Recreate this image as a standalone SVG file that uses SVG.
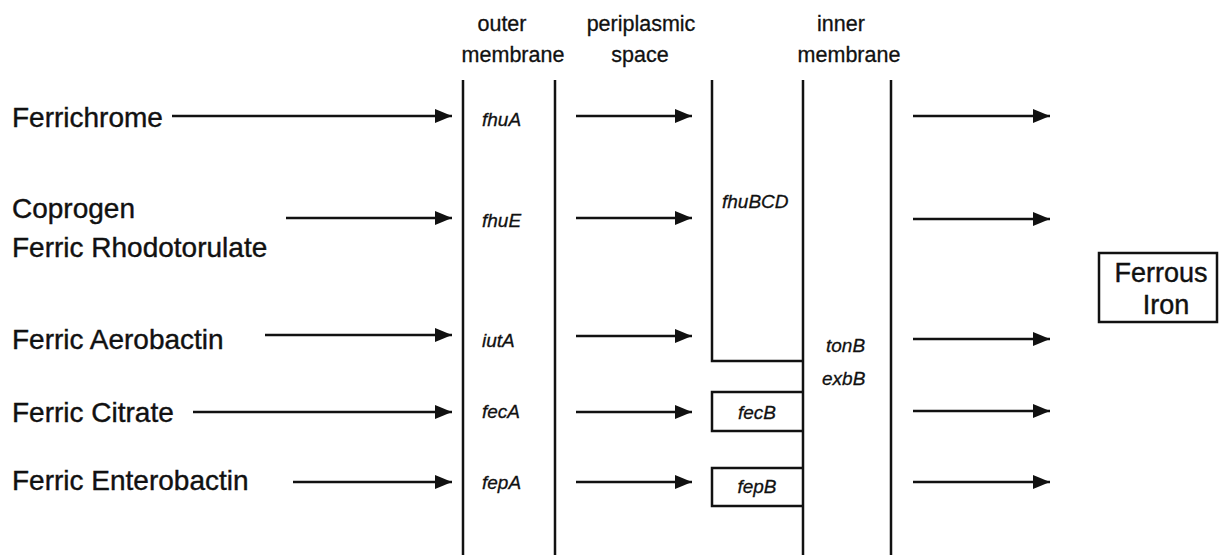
<svg xmlns="http://www.w3.org/2000/svg" width="1220" height="555" viewBox="0 0 1220 555">
<defs>
<style>
.lbl{font-family:"Liberation Sans",Arial,sans-serif;font-size:28px;fill:#111;stroke:#111;stroke-width:0.4}
.hdr{font-family:"Liberation Sans",Arial,sans-serif;font-size:21.5px;fill:#111;stroke:#111;stroke-width:0.3;text-anchor:middle}
.gene{font-family:"Liberation Sans",Arial,sans-serif;font-size:19px;font-style:italic;fill:#111;stroke:#111;stroke-width:0.3}
.ln{stroke:#111;stroke-width:2.5;fill:none}
.ar{stroke:#111;stroke-width:2.5;fill:none;marker-end:url(#ah)}
</style>
<marker id="ah" viewBox="0 0 17 14" refX="17" refY="7" markerWidth="17" markerHeight="14" markerUnits="userSpaceOnUse" orient="auto">
<path d="M0,0 L17,7 L0,14 Z" fill="#111"/>
</marker>
</defs>
<rect width="1220" height="555" fill="#fff"/>
<g id="headers">
<text class="hdr" x="502" y="31">outer</text>
<text class="hdr" x="513" y="62">membrane</text>
<text class="hdr" x="641" y="31">periplasmic</text>
<text class="hdr" x="640" y="62">space</text>
<text class="hdr" x="841" y="31">inner</text>
<text class="hdr" x="849" y="62">membrane</text>
</g>
<g id="membranes">
<line class="ln" x1="463" y1="80" x2="463" y2="555"/>
<line class="ln" x1="555" y1="80" x2="555" y2="555"/>
<line class="ln" x1="803" y1="80" x2="803" y2="555"/>
<line class="ln" x1="891" y1="80" x2="891" y2="555"/>
</g>
<g id="fhuBCD">
<path class="ln" d="M712,80 L712,361 L803,361"/>
<text class="gene" x="722" y="208">fhuBCD</text>
</g>
<g id="fecB">
<path class="ln" d="M803,392 L712,392 L712,431 L803,431"/>
<text class="gene" x="757" y="419" text-anchor="middle">fecB</text>
</g>
<g id="fepB">
<path class="ln" d="M803,468 L712,468 L712,506 L803,506"/>
<text class="gene" x="757" y="493" text-anchor="middle">fepB</text>
</g>
<g id="substrates">
<text class="lbl" x="12" y="127">Ferrichrome</text>
<text class="lbl" x="12" y="218">Coprogen</text>
<text class="lbl" x="12" y="257">Ferric Rhodotorulate</text>
<text class="lbl" x="12" y="349">Ferric Aerobactin</text>
<text class="lbl" x="12" y="422">Ferric Citrate</text>
<text class="lbl" x="12" y="490">Ferric Enterobactin</text>
</g>
<g id="outer-genes">
<text class="gene" x="482" y="126">fhuA</text>
<text class="gene" x="482" y="227">fhuE</text>
<text class="gene" x="482" y="347">iutA</text>
<text class="gene" x="482" y="418">fecA</text>
<text class="gene" x="482" y="489">fepA</text>
</g>
<g id="inner-genes">
<text class="gene" x="826" y="352">tonB</text>
<text class="gene" x="822" y="385">exbB</text>
</g>
<g id="ferrous-iron">
<rect x="1099" y="253" width="118" height="69" fill="none" stroke="#111" stroke-width="2.5"/>
<text class="lbl" x="1161" y="282" text-anchor="middle" style="font-size:27px">Ferrous</text>
<text class="lbl" x="1166" y="314" text-anchor="middle" style="font-size:27px">Iron</text>
</g>
<g id="connectors">
<line class="ar" x1="172" y1="116" x2="452" y2="116"/>
<line class="ar" x1="286" y1="218" x2="452" y2="218"/>
<line class="ar" x1="265" y1="335" x2="452" y2="335"/>
<line class="ar" x1="193" y1="412" x2="452" y2="412"/>
<line class="ar" x1="293" y1="482" x2="452" y2="482"/>
<line class="ar" x1="576" y1="116" x2="692" y2="116"/>
<line class="ar" x1="576" y1="218" x2="692" y2="218"/>
<line class="ar" x1="576" y1="336" x2="692" y2="336"/>
<line class="ar" x1="576" y1="412" x2="692" y2="412"/>
<line class="ar" x1="576" y1="482" x2="692" y2="482"/>
<line class="ar" x1="913" y1="116" x2="1050" y2="116"/>
<line class="ar" x1="913" y1="219" x2="1050" y2="219"/>
<line class="ar" x1="913" y1="339" x2="1050" y2="339"/>
<line class="ar" x1="913" y1="411" x2="1050" y2="411"/>
<line class="ar" x1="913" y1="482" x2="1050" y2="482"/>
</g>
</svg>
